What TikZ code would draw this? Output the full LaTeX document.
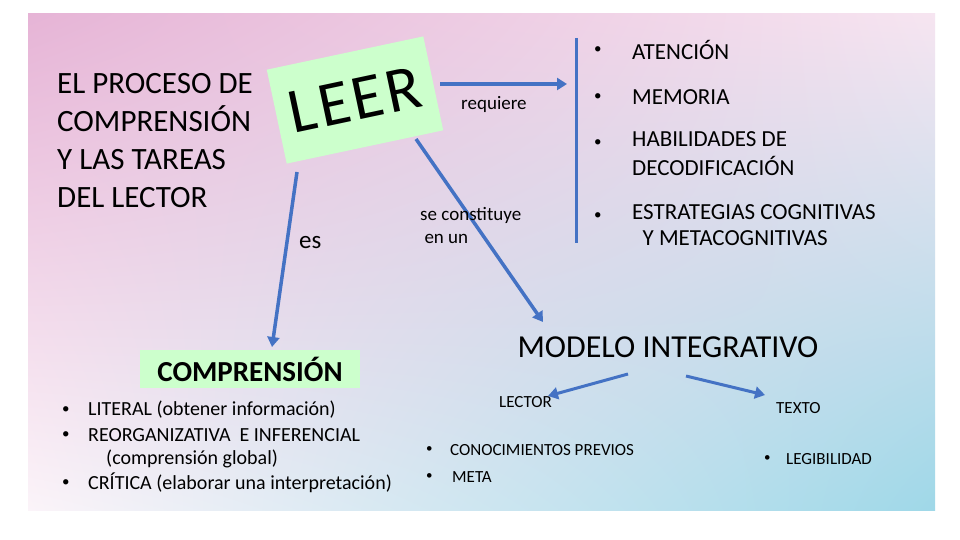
\documentclass[tikz,border=0pt]{standalone}
\usepackage{fontspec}
\setmainfont{Carlito}
\usetikzlibrary{arrows.meta,shadings}
\definecolor{ablue}{HTML}{4472C4}
\definecolor{lgreen}{HTML}{CCFFCC}
\definecolor{bpink}{HTML}{E6B4D6}
\definecolor{bblue}{HTML}{9FD8E8}
\begin{document}
\begin{tikzpicture}[x=1pt,y=-1pt,
  arr/.style={ablue,line width=3.5pt,-{Triangle[length=10pt,width=12pt]}},
  txt/.style={anchor=west,inner sep=0pt,text=black},
  bul/.style={anchor=west,inner sep=0pt,font=\fontsize{20}{23}\selectfont},
  dot/.style={anchor=west,inner sep=0pt,font=\fontsize{15}{15}\selectfont}]
\useasboundingbox (0,0) rectangle (960,540);
\fill[white] (0,0) rectangle (960,540);
\shade[upper left=bpink,upper right=bpink!35,lower left=white!85!bpink,lower right=bblue] (28,14) rectangle (935,510);
% LEER box
\node[fill=lgreen,rotate=12,minimum width=160pt,minimum height=96pt,inner sep=0pt,font=\fontsize{64}{64}\selectfont\addfontfeature{LetterSpace=5}] (leer) at (355,100) {LEER};
\node[txt,font=\fontsize{31}{38}\selectfont,align=left,anchor=north west] (title) at (57,73) {EL PROCESO DE\\COMPRENSIÓN\\Y LAS TAREAS\\DEL LECTOR};
% comprension
\node[fill=lgreen,minimum width=220pt,minimum height=38pt,inner sep=0pt,font=\bfseries\fontsize{29}{29}\selectfont] (comp) at (250,369) {COMPRENSIÓN};
\coordinate (c1) at (297,172);
\coordinate (c2) at (272,347);
\draw[arr] (c1) -- (c2);
\node[txt,font=\fontsize{25}{25}\selectfont] (es) at (299,243) {es};
% requiere
\coordinate (r1) at (440,84);
\coordinate (r2) at (567,84);
\draw[arr] (r1) -- (r2);
\node[txt,font=\fontsize{19}{19}\selectfont] (req) at (461,104) {requiere};
\coordinate (v1) at (576,38);
\coordinate (v2) at (576,243);
\draw[ablue,line width=3pt] (v1) -- (v2);
\node[dot] (b1) at (594,50) {•};
\node[bul,font=\fontsize{23}{26}\selectfont] (t1) at (632,50) {ATENCIÓN};
\node[dot] (b2) at (594,97) {•};
\node[bul,font=\fontsize{23}{26}\selectfont] (t2) at (632,97) {MEMORIA};
\node[dot] (b3) at (594,143) {•};
\node[bul,font=\fontsize{23}{29}\selectfont,align=left,anchor=north west] (t3) at (632,131) {HABILIDADES DE\\DECODIFICACIÓN};
\node[dot] (b4) at (594,216) {•};
\node[bul,font=\fontsize{23}{26}\selectfont,align=left,anchor=north west] (t4) at (632,204) {ESTRATEGIAS COGNITIVAS\\\ \ Y METACOGNITIVAS};
% diagonal
\coordinate (d1) at (416,139);
\coordinate (d2) at (543,322);
\draw[arr] (d1) -- (d2);
\node[txt,font=\fontsize{19}{23}\selectfont,align=left,anchor=north west] (sc) at (420,207) {se constituye\\\ en un};
% left bullets
\node[dot] (l1) at (62,410) {•};
\node[bul] (lt1) at (88,410) {LITERAL (obtener información)};
\node[dot] (l2) at (62,435) {•};
\node[bul] (lt2) at (88,435) {REORGANIZATIVA\ \ E INFERENCIAL};
\node[bul] (lt3) at (106,459) {(comprensión global)};
\node[dot] (l4) at (62,483) {•};
\node[bul] (lt4) at (88,483) {CRÍTICA (elaborar una interpretación)};
% modelo
\node[font=\fontsize{32}{32}\selectfont,inner sep=0pt] (mod) at (668,347) {MODELO INTEGRATIVO};
\coordinate (m1) at (628,374);
\coordinate (m2) at (548,396);
\coordinate (m3) at (686,376);
\coordinate (m4) at (765,395);
\draw[arr,line width=3pt] (m1) -- (m2);
\draw[arr,line width=3pt] (m3) -- (m4);
\node[txt,font=\fontsize{17}{17}\selectfont] (lec) at (499,402) {LECTOR};
\node[txt,font=\fontsize{17}{17}\selectfont] (tex) at (776,408) {TEXTO};
\node[dot,font=\fontsize{13}{13}\selectfont] (k1) at (426,450) {•};
\node[bul,font=\fontsize{17}{17}\selectfont] (kt1) at (450,450) {CONOCIMIENTOS PREVIOS};
\node[dot,font=\fontsize{13}{13}\selectfont] (k2) at (426,477) {•};
\node[bul,font=\fontsize{17}{17}\selectfont] (kt2) at (452,477) {META};
\node[dot,font=\fontsize{13}{13}\selectfont] (g1) at (764,459) {•};
\node[bul,font=\fontsize{17}{17}\selectfont] (gt1) at (786,459) {LEGIBILIDAD};
\end{tikzpicture}
\end{document}
